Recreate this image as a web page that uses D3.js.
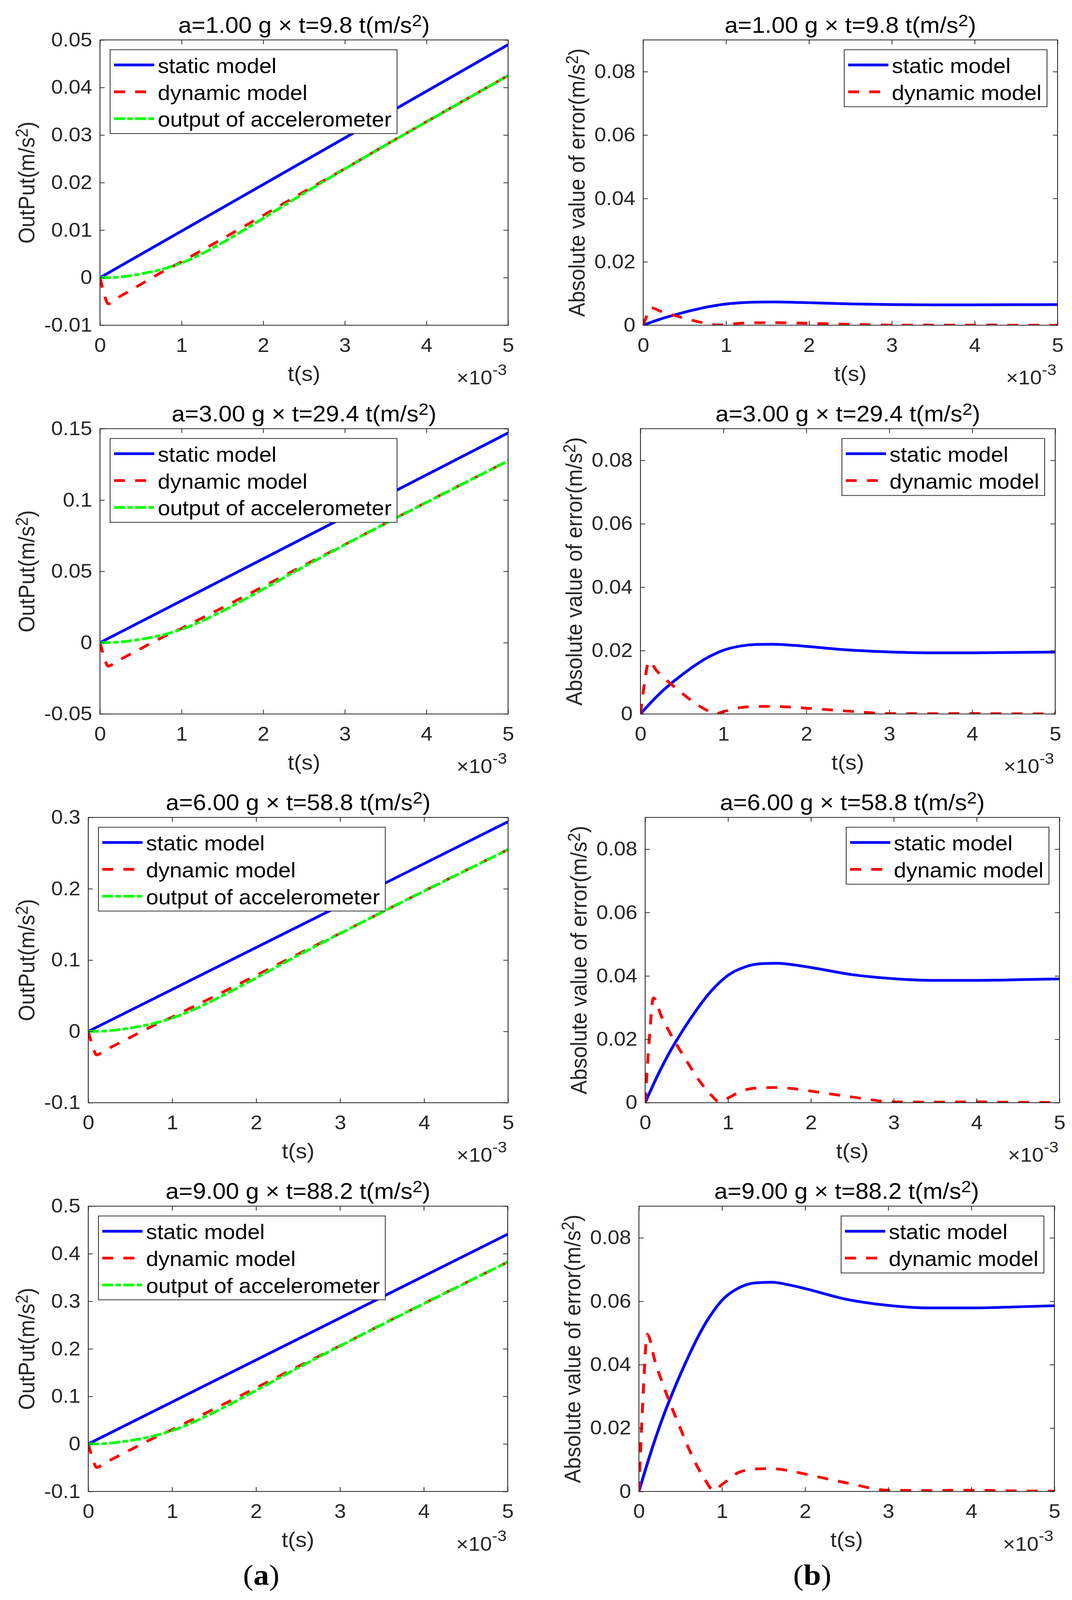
<!DOCTYPE html>
<html>
<head>
<meta charset="utf-8">
<script src="https://cdn.jsdelivr.net/npm/d3@7"></script>
<style>
  html, body { margin: 0; padding: 0; background: #fff; overflow: hidden; }
  #fig { display: block; width: 100vw; height: 100vh; }
  text { font-family: "Liberation Sans", Arial, Helvetica, sans-serif; }
</style>
</head>
<body>
<svg id="fig" viewBox="0 0 2745 4408" preserveAspectRatio="none"></svg>
<script>
// ---- data (time in ms, values in m/s^2) ----
const timeMs = [0, 0.05, 0.1, 0.2, 0.3, 0.4, 0.5, 0.6, 0.7, 0.8, 0.9, 1.0, 1.2, 1.4, 1.6, 1.8, 2.0, 2.5, 3.0, 3.5, 4.0, 4.5, 5.0];
const staticTime = [0, 5];
const xTicks = [0, 1, 2, 3, 4, 5];

const accelText = ["1.00", "3.00", "6.00", "9.00"];
const slopeText = ["9.8", "29.4", "58.8", "88.2"];

// static model (straight ramp)
const staticG1 = [0, 0.049];
const staticG3 = [0, 0.147];
const staticG6 = [0, 0.294];
const staticG9 = [0, 0.441];

// output of accelerometer
const outputG1 = [0, 0, 0.00001, 0.00009, 0.00026, 0.0005, 0.00079, 0.00112, 0.0015, 0.00196, 0.00249, 0.0031, 0.00462, 0.00641, 0.00834, 0.0104, 0.01249, 0.01777, 0.02288, 0.02787, 0.03277, 0.03763, 0.04249];
const outputG3 = [0, 0, 0.00003, 0.00027, 0.00077, 0.0015, 0.00237, 0.00337, 0.0045, 0.00587, 0.00747, 0.0093, 0.01387, 0.01923, 0.02503, 0.0312, 0.03747, 0.0533, 0.06863, 0.0836, 0.0983, 0.1129, 0.12747];
const outputG6 = [0, 0, 0.00007, 0.00053, 0.00153, 0.003, 0.00473, 0.00673, 0.009, 0.01173, 0.01493, 0.0186, 0.02773, 0.03847, 0.05007, 0.0624, 0.07493, 0.1066, 0.13727, 0.1672, 0.1966, 0.2258, 0.25493];
const outputG9 = [0, 0, 0.0001, 0.0008, 0.0023, 0.0045, 0.0071, 0.0101, 0.0135, 0.0176, 0.0224, 0.0279, 0.0416, 0.0577, 0.0751, 0.0936, 0.1124, 0.1599, 0.2059, 0.2508, 0.2949, 0.3387, 0.3824];

// dynamic model
const dynamicG1 = [0, -0.00333, -0.0055, -0.00441, -0.00341, -0.00241, -0.00141, -0.00038, 0.00061, 0.00157, 0.00246, 0.00334, 0.00529, 0.0072, 0.00914, 0.01113, 0.0131, 0.01807, 0.02292, 0.0279, 0.03281, 0.03766, 0.0425];
const dynamicG3 = [0, -0.01, -0.0165, -0.01323, -0.01023, -0.00723, -0.00423, -0.00113, 0.00183, 0.0047, 0.00737, 0.01003, 0.01587, 0.0216, 0.02743, 0.0334, 0.0393, 0.0542, 0.06877, 0.0837, 0.09843, 0.11297, 0.1275];
const dynamicG6 = [0, -0.02, -0.033, -0.02647, -0.02047, -0.01447, -0.00847, -0.00227, 0.00367, 0.0094, 0.01473, 0.02007, 0.03173, 0.0432, 0.05487, 0.0668, 0.0786, 0.1084, 0.13753, 0.1674, 0.19687, 0.22593, 0.255];
const dynamicG9 = [0, -0.03, -0.0495, -0.0397, -0.0307, -0.0217, -0.0127, -0.0034, 0.0055, 0.0141, 0.0221, 0.0301, 0.0476, 0.0648, 0.0823, 0.1002, 0.1179, 0.1626, 0.2063, 0.2511, 0.2953, 0.3389, 0.3825];

// absolute error of the static model
const errStaticG1 = [0, 0.00049, 0.00097, 0.00187, 0.00269, 0.00342, 0.00411, 0.00476, 0.00536, 0.00589, 0.00633, 0.0067, 0.00713, 0.00731, 0.00733, 0.00724, 0.00711, 0.00673, 0.00652, 0.00643, 0.00643, 0.00647, 0.00651];
const errStaticG3 = [0, 0.00147, 0.0029, 0.0056, 0.00807, 0.01027, 0.01233, 0.01427, 0.01607, 0.01767, 0.019, 0.0201, 0.0214, 0.02193, 0.022, 0.02173, 0.02133, 0.0202, 0.01957, 0.0193, 0.0193, 0.0194, 0.01953];
const errStaticG6 = [0, 0.00293, 0.0058, 0.0112, 0.01613, 0.02053, 0.02467, 0.02853, 0.03213, 0.03533, 0.038, 0.0402, 0.0428, 0.04387, 0.044, 0.04347, 0.04267, 0.0404, 0.03913, 0.0386, 0.0386, 0.0388, 0.03907];
const errStaticG9 = [0, 0.0044, 0.0087, 0.0168, 0.0242, 0.0308, 0.037, 0.0428, 0.0482, 0.053, 0.057, 0.0603, 0.0642, 0.0658, 0.066, 0.0652, 0.064, 0.0606, 0.0587, 0.0579, 0.0579, 0.0582, 0.0586];

// absolute error of the dynamic model
const errDynamicG1 = [0, 0.00333, 0.00551, 0.0045, 0.00367, 0.00291, 0.0022, 0.0015, 0.00089, 0.00039, 0.00003, 0.00024, 0.00067, 0.00079, 0.0008, 0.00073, 0.00061, 0.0003, 0.00004, 0.00003, 0.00004, 0.00002, 0.00001];
const errDynamicG3 = [0, 0.01, 0.01653, 0.0135, 0.011, 0.00873, 0.0066, 0.0045, 0.00267, 0.00117, 0.0001, 0.00073, 0.002, 0.00237, 0.0024, 0.0022, 0.00183, 0.0009, 0.00013, 0.0001, 0.00013, 0.00007, 0.00003];
const errDynamicG6 = [0, 0.02, 0.03307, 0.027, 0.022, 0.01747, 0.0132, 0.009, 0.00533, 0.00233, 0.0002, 0.00147, 0.004, 0.00473, 0.0048, 0.0044, 0.00367, 0.0018, 0.00027, 0.0002, 0.00027, 0.00013, 0.00007];
const errDynamicG9 = [0, 0.03, 0.0496, 0.0405, 0.033, 0.0262, 0.0198, 0.0135, 0.008, 0.0035, 0.0003, 0.0022, 0.006, 0.0071, 0.0072, 0.0066, 0.0055, 0.0027, 0.0004, 0.0003, 0.0004, 0.0002, 0.0001];

// axis ranges and ticks
const outDomains = [[-0.01, 0.05], [-0.05, 0.15], [-0.1, 0.3], [-0.1, 0.5]];
const outTicks = [
  [-0.01, 0, 0.01, 0.02, 0.03, 0.04, 0.05],
  [-0.05, 0, 0.05, 0.1, 0.15],
  [-0.1, 0, 0.1, 0.2, 0.3],
  [-0.1, 0, 0.1, 0.2, 0.3, 0.4, 0.5]
];
const errDomain = [0, 0.09];
const errTicks = [0, 0.02, 0.04, 0.06, 0.08];

const legendNames = ["static model", "dynamic model", "output of accelerometer"];

// ---- layout ----
const AX = "#262626";
const LW = 7.5;
const rowTop = [110, 1181, 2252, 3323];
const boxH = 786;
const leftBox = [[256, 1301], [256, 1301], [226, 1301], [226, 1300]];
const rightBox = [[1647, 2708], [1640, 2702], [1652, 2713], [1636, 2700]];

const svg = d3.select("#fig");
svg.append("rect").attr("width", 2745).attr("height", 4408).attr("fill", "#fff");

const statics = [staticG1, staticG3, staticG6, staticG9];
const outputs = [outputG1, outputG3, outputG6, outputG9];
const dynamics = [dynamicG1, dynamicG3, dynamicG6, dynamicG9];
const errStatics = [errStaticG1, errStaticG3, errStaticG6, errStaticG9];
const errDynamics = [errDynamicG1, errDynamicG3, errDynamicG6, errDynamicG9];

const styleBlue = { color: "#0000ff", dash: null };
const styleRed = { color: "#ff0000", dash: "28,26" };
const styleGreen = { color: "#00ff00", dash: "28,6,14,6" };

function fmtTick(d) { return String(+d.toFixed(4)); }

// text with a raised "2" before the closing bracket
function supLabel(sel, main, size) {
  sel.append("tspan").text(main);
  sel.append("tspan").attr("font-size", size * 0.75).attr("dy", -size * 0.3).text("2");
  sel.append("tspan").attr("dy", size * 0.3).text(")");
}

let clipCount = 0;
function drawPanel(p) {
  const x = d3.scaleLinear().domain([0, 5]).range([p.x0, p.x1]);
  const y = d3.scaleLinear().domain(p.yDomain).range([p.y1, p.y0]);

  const clipId = "clip" + (clipCount++);
  svg.append("clipPath").attr("id", clipId)
    .append("rect").attr("x", p.x0).attr("y", p.y0)
    .attr("width", p.x1 - p.x0).attr("height", p.y1 - p.y0);

  const line = d3.line()
    .x(d => x(d[0]))
    .y(d => y(d[1]))
    .curve(d3.curveMonotoneX);

  const plot = svg.append("g").attr("clip-path", "url(#" + clipId + ")");
  p.series.forEach(s => {
    plot.append("path")
      .datum(d3.zip(s.t, s.v))
      .attr("d", line)
      .attr("fill", "none")
      .attr("stroke", s.style.color)
      .attr("stroke-width", LW)
      .attr("stroke-dasharray", s.style.dash);
  });

  // legend
  const leg = svg.append("g");
  const legRect = leg.append("rect").attr("fill", "#fff").attr("stroke", AX).attr("stroke-width", 2);
  let maxLen = 0;
  p.series.forEach((s, i) => {
    leg.append("line")
      .attr("x1", 10).attr("x2", 113)
      .attr("y1", 42 + 74 * i).attr("y2", 42 + 74 * i)
      .attr("stroke", s.style.color)
      .attr("stroke-width", LW)
      .attr("stroke-dasharray", s.style.dash);
    const t = leg.append("text")
      .attr("x", 122).attr("y", 64 + 74 * i)
      .attr("font-size", 57).attr("fill", "#000")
      .text(s.name);
    maxLen = Math.max(maxLen, t.node().getComputedTextLength());
  });
  const legW = 122 + maxLen + 14;
  const legH = 42 + 74 * (p.series.length - 1) + 41;
  legRect.attr("width", legW).attr("height", legH);
  const legX = p.legendRight ? p.x1 - 27 - legW : p.x0 + 26;
  leg.attr("transform", "translate(" + legX + "," + (p.y0 + 27) + ")");

  // axes with inward ticks on all four sides
  function styleAxis(g) {
    g.attr("font-family", null).attr("font-size", null);
    g.select(".domain").remove();
    g.selectAll(".tick line").attr("stroke", AX).attr("stroke-width", 2);
    g.selectAll(".tick text").attr("fill", AX).attr("font-size", 54);
  }
  svg.append("g").attr("transform", "translate(0," + p.y1 + ")")
    .call(d3.axisBottom(x).tickValues(xTicks).tickFormat(d3.format("d")).tickSize(-12).tickPadding(35))
    .call(styleAxis);
  svg.append("g").attr("transform", "translate(0," + p.y0 + ")")
    .call(d3.axisTop(x).tickValues(xTicks).tickFormat("").tickSize(-12))
    .call(styleAxis);
  svg.append("g").attr("transform", "translate(" + p.x0 + ",0)")
    .call(d3.axisLeft(y).tickValues(p.yTicks).tickFormat(fmtTick).tickSize(-12).tickPadding(20))
    .call(styleAxis);
  svg.append("g").attr("transform", "translate(" + p.x1 + ",0)")
    .call(d3.axisRight(y).tickValues(p.yTicks).tickFormat("").tickSize(-12))
    .call(styleAxis);

  svg.append("rect")
    .attr("x", p.x0).attr("y", p.y0)
    .attr("width", p.x1 - p.x0).attr("height", p.y1 - p.y0)
    .attr("fill", "none").attr("stroke", AX).attr("stroke-width", 2.2);

  const cx = (p.x0 + p.x1) / 2;
  const cy = (p.y0 + p.y1) / 2;

  // title
  const title = svg.append("text")
    .attr("x", cx).attr("y", p.y0 - 20)
    .attr("text-anchor", "middle").attr("font-size", 61).attr("fill", "#000");
  supLabel(title, p.title, 61);

  // x label and exponent
  svg.append("text")
    .attr("x", cx).attr("y", p.y1 + 153)
    .attr("text-anchor", "middle").attr("font-size", 58).attr("fill", AX)
    .text("t(s)");
  const ex = svg.append("text")
    .attr("x", p.x1 - 3).attr("y", p.y1 + 163)
    .attr("text-anchor", "end").attr("font-size", 54).attr("fill", AX);
  ex.append("tspan").text("\u00d710");
  ex.append("tspan").attr("font-size", 42).attr("dy", -26).text("-3");

  // y label
  const yl = svg.append("text")
    .attr("transform", "translate(" + p.labelX + "," + cy + ") rotate(-90)")
    .attr("text-anchor", "middle").attr("font-size", 58).attr("fill", AX);
  supLabel(yl, p.ylabel, 58);
}

for (let r = 0; r < 4; r++) {
  const y0 = rowTop[r], y1 = rowTop[r] + boxH;
  const titleText = "a=" + accelText[r] + " g \u00d7 t=" + slopeText[r] + " t(m/s";

  drawPanel({
    x0: leftBox[r][0], x1: leftBox[r][1], y0: y0, y1: y1,
    yDomain: outDomains[r], yTicks: outTicks[r],
    labelX: 88, legendRight: false,
    title: titleText, ylabel: "OutPut(m/s",
    series: [
      { name: legendNames[0], t: staticTime, v: statics[r], style: styleBlue },
      { name: legendNames[1], t: timeMs, v: dynamics[r], style: styleRed },
      { name: legendNames[2], t: timeMs, v: outputs[r], style: styleGreen }
    ]
  });

  drawPanel({
    x0: rightBox[r][0], x1: rightBox[r][1], y0: y0, y1: y1,
    yDomain: errDomain, yTicks: errTicks,
    labelX: rightBox[r][0] - 150, legendRight: true,
    title: titleText, ylabel: "Absolute value of error(m/s",
    series: [
      { name: legendNames[0], t: timeMs, v: errStatics[r], style: styleBlue },
      { name: legendNames[1], t: timeMs, v: errDynamics[r], style: styleRed }
    ]
  });
}

// sub-figure captions
function caption(cx, letter) {
  const t = svg.append("text")
    .attr("x", cx).attr("y", 4366)
    .attr("text-anchor", "middle")
    .attr("font-size", 80).attr("fill", "#000")
    .style("font-family", '"Liberation Serif", "Times New Roman", serif');
  t.append("tspan").text("(");
  t.append("tspan").attr("font-weight", "bold").text(letter);
  t.append("tspan").text(")");
}
caption(669, "a");
caption(2080, "b");
</script>
</body>
</html>
